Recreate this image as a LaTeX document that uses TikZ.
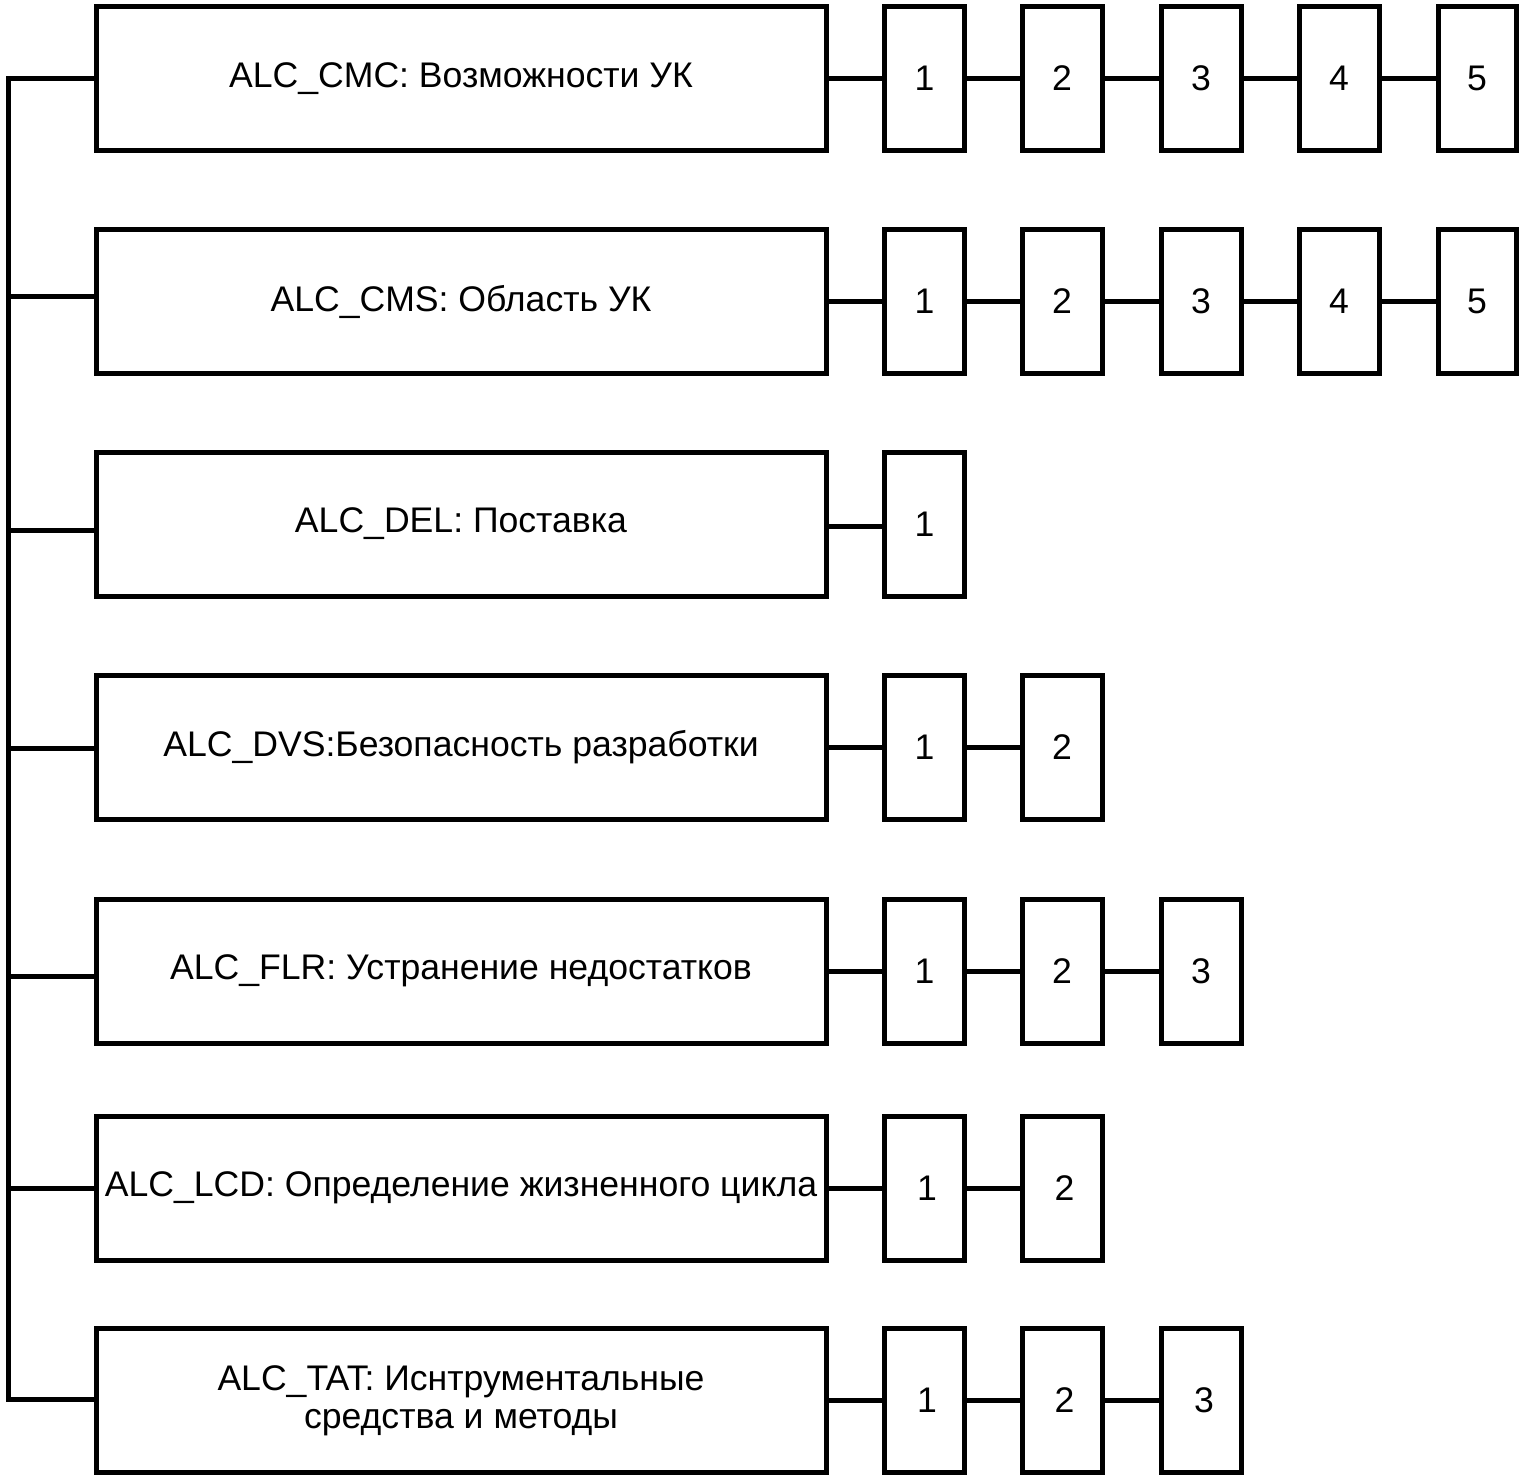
\documentclass[tikz,border=0pt]{standalone}
\usepackage{fontspec}
\setmainfont{Liberation Sans}
\begin{document}
\begin{tikzpicture}[x=1pt,y=-1pt,
  lw/.style={line width=5pt},
  mainbox/.style={draw, lw, minimum width=730pt, minimum height=144pt, inner sep=0pt,
    font=\fontsize{35.6}{38.5}\selectfont, align=center},
  numbox/.style={draw, lw, minimum width=80pt, minimum height=144pt, inner sep=0pt,
    font=\fontsize{35.6}{38.5}\selectfont},
  link/.style={lw}]
\useasboundingbox (0,0) rectangle (1523,1481);

% main boxes
\node[mainbox] (m1) at (461,78.5)   {ALC\_CMC: Возможности УК};
\node[mainbox] (m2) at (461,301.5)  {ALC\_CMS: Область УК};
\node[mainbox] (m3) at (461,524)    {ALC\_DEL: Поставка};
\node[mainbox] (m4) at (461,747.5)  {ALC\_DVS:Безопасность разработки};
\node[mainbox] (m5) at (461,971)    {ALC\_FLR: Устранение недостатков};
\node[mainbox] (m6) at (461,1188)   {ALC\_LCD: Определение жизненного цикла};
\node[mainbox] (m7) at (461,1400.5) {ALC\_TAT: Иснтрументальные\\средства и методы};

% number boxes
\node[numbox] (b11) at (924.5,78.5) {1};
\node[numbox] (b12) at (1062,78.5)  {2};
\node[numbox] (b13) at (1201,78.5)  {3};
\node[numbox] (b14) at (1339,78.5)  {4};
\node[numbox, minimum width=78pt] (b15) at (1477,78.5)  {5};

\node[numbox] (b21) at (924.5,301.5) {1};
\node[numbox] (b22) at (1062,301.5)  {2};
\node[numbox] (b23) at (1201,301.5)  {3};
\node[numbox] (b24) at (1339,301.5)  {4};
\node[numbox, minimum width=78pt] (b25) at (1477,301.5)  {5};

\node[numbox] (b31) at (924.5,524) {1};

\node[numbox] (b41) at (924.5,747.5) {1};
\node[numbox] (b42) at (1062,747.5)  {2};

\node[numbox] (b51) at (924.5,971) {1};
\node[numbox] (b52) at (1062,971)  {2};
\node[numbox] (b53) at (1201,971)  {3};

\node[numbox] (b61) at (924.5,1188) {\hspace*{5pt}1};
\node[numbox] (b62) at (1062,1188)  {\hspace*{5pt}2};

\node[numbox] (b71) at (924.5,1400.5) {\hspace*{5pt}1};
\node[numbox] (b72) at (1062,1400.5)  {\hspace*{5pt}2};
\node[numbox] (b73) at (1201,1400.5)  {\hspace*{6pt}3};

% right-hand chains
\draw[link] (m1.east) -- (b11.west);
\draw[link] (b11.east) -- (b12.west);
\draw[link] (b12.east) -- (b13.west);
\draw[link] (b13.east) -- (b14.west);
\draw[link] (b14.east) -- (b15.west);

\draw[link] (m2.east) -- (b21.west);
\draw[link] (b21.east) -- (b22.west);
\draw[link] (b22.east) -- (b23.west);
\draw[link] (b23.east) -- (b24.west);
\draw[link] (b24.east) -- (b25.west);

\draw[link] ([yshift=-2pt]m3.east) -- ([yshift=-2pt]b31.west);

\draw[link] (m4.east) -- (b41.west);
\draw[link] (b41.east) -- (b42.west);

\draw[link] (m5.east) -- (b51.west);
\draw[link] (b51.east) -- (b52.west);
\draw[link] (b52.east) -- (b53.west);

\draw[link] (m6.east) -- (b61.west);
\draw[link] (b61.east) -- (b62.west);

\draw[link] (m7.east) -- (b71.west);
\draw[link] (b71.east) -- (b72.west);
\draw[link] (b72.east) -- (b73.west);

% left spine
\coordinate (l1) at (8,78.5);
\coordinate (l2) at (8,296);
\coordinate (l3) at (8,530.5);
\coordinate (l4) at (8,748);
\coordinate (l5) at (8,976.5);
\coordinate (l6) at (8,1188.5);
\coordinate (l7) at (8,1399.5);
\draw[link] (l1 -| m1.west) -- (l1) -- (l7) -- (l7 -| m7.west);
\draw[link] (l2) -- (l2 -| m2.west);
\draw[link] (l3) -- (l3 -| m3.west);
\draw[link] (l4) -- (l4 -| m4.west);
\draw[link] (l5) -- (l5 -| m5.west);
\draw[link] (l6) -- (l6 -| m6.west);
\end{tikzpicture}
\end{document}
